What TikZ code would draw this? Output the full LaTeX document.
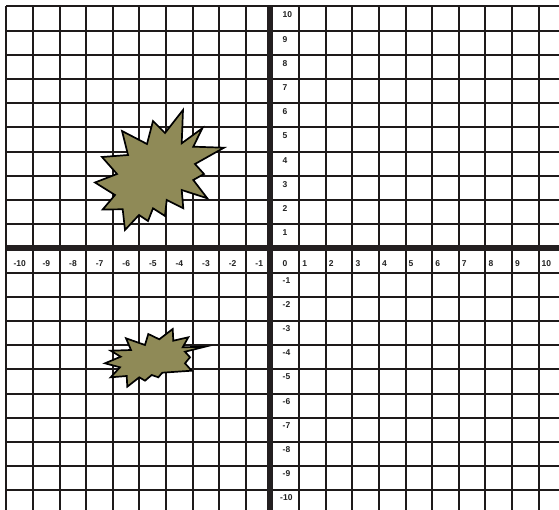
\documentclass[tikz,border=0pt]{standalone}
\usepackage{fontspec}
\setmainfont{Liberation Sans}
\definecolor{gridc}{HTML}{1E1A1A}
\definecolor{axisc}{HTML}{231F20}
\definecolor{labc}{HTML}{222222}
\definecolor{burst}{HTML}{8F8A57}
\begin{document}
\begin{tikzpicture}[x=1pt,y=-1pt,
  gridline/.style={draw=gridc,line width=2pt,line cap=rect},
  axisline/.style={draw=axisc,line width=6pt},
  lab/.style={font=\fontsize{8.5}{9}\selectfont\bfseries, text=labc, inner sep=0pt},
  burststyle/.style={fill=burst,draw=black,line width=1.7pt,line join=miter}]
\useasboundingbox (0,0) rectangle (559,510);
\fill[white] (0,0) rectangle (559,510);
\begin{scope}
\clip (0,0) rectangle (559,510);
% vertical grid lines
\foreach \k in {-10,...,-1,1,2,...,11} {
  \draw[gridline] ({round(272.5+26.6*\k)},7) -- ({round(272.5+26.6*\k)},530);
}
% horizontal grid lines
\foreach \k in {-11,...,-1,1,2,...,10} {
  \draw[gridline] (7,{round(248.4-24.2*\k)}) -- (580,{round(248.4-24.2*\k)});
}
% axes
\draw[axisline] (7,248) -- (580,248);
\draw[axisline] (270,7) -- (270,530);
% x labels
\foreach \k in {-10,...,-1} {
  \node[lab] (xl\k) at ({272.5+26.6*(\k+0.5)},263.3) {\k};
}
\node[lab,anchor=west] (xl0) at (282.5,263.3) {0};
\foreach \k in {1,...,10} {
  \node[lab,anchor=west] (xl\k) at ({272.5+26.6*\k+3},263.3) {\k};
}
% y labels
\foreach \k in {1,...,10} {
  \node[lab,anchor=west] (yl\k) at (282.5,{248.4-24.2*\k+8.6}) {\k};
}
\foreach \k in {-1,...,-9} {
  \node[lab,anchor=west] (yl\k) at (282.5,{248.4-24.2*\k+7.6}) {\k};
}
\node[lab,anchor=west] (ylm10) at (280,{248.4+242+7.6}) {-10};
% bursts
\draw[burststyle] (183,110) -- (165,133) -- (153,121) -- (147,144) -- (122,131) -- (128,155)
  -- (102,157) -- (117,174) -- (95,182.5) -- (115,195) -- (102.7,209.5) -- (122.7,209.3)
  -- (125,230) -- (139,215) -- (148,221) -- (153,208.3) -- (165,216) -- (166.7,200)
  -- (183.3,208.3) -- (181.7,190) -- (207.3,198.3) -- (193.3,180) -- (204,174) -- (195,164)
  -- (224,147.7) -- (193.3,146.7) -- (202.3,128.3) -- (181.7,143.3) -- cycle;
\draw[burststyle] (205,346.7) -- (182.7,347.3) -- (188.3,337.3) -- (173.3,340.7) -- (172.7,329)
  -- (159.3,339.3) -- (148.3,334) -- (145,345) -- (126,338.3) -- (131,350) -- (110.7,350.7)
  -- (120.7,356.7) -- (105,363.3) -- (120,367.3) -- (110.7,377.3) -- (126.7,376) -- (127.3,386.7)
  -- (139.3,377.3) -- (145,380.7) -- (151.7,375) -- (158.3,377.3) -- (162.3,372.7) -- (191.7,370.7)
  -- (185,363.3) -- (190,357.3) -- (185,351.7) -- cycle;
\end{scope}
\end{tikzpicture}
\end{document}
